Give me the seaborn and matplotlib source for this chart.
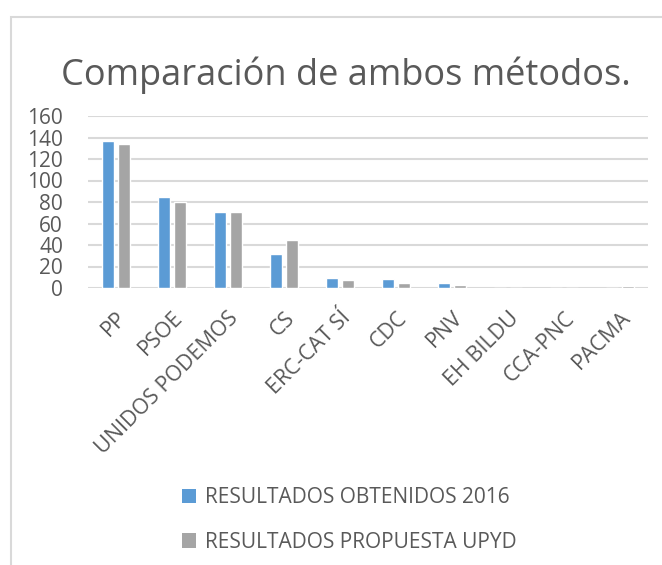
import pandas as pd
import numpy as np
import matplotlib.pyplot as plt
import seaborn as sns
from matplotlib.patches import Rectangle, Patch

# ----------------------------- Data ----------------------------- #
partidos = ['PP', 'PSOE', 'UNIDOS PODEMOS', 'CS', 'ERC-CAT SÍ', 'CDC', 'PNV',
            'EH BILDU', 'CCA-PNC', 'PACMA']
obtenidos_2016 = [137, 85, 71, 32, 9, 8, 5, 0, 0, 0]
propuesta_upyd = [134, 80, 71, 45, 7, 5, 3, 0, 0, 2]
series_names = ['RESULTADOS OBTENIDOS 2016', 'RESULTADOS PROPUESTA UPYD']
colors = ['#5b9bd5', '#a5a5a5']
y_ticks = [0, 20, 40, 60, 80, 100, 120, 140, 160]

df = pd.DataFrame({
    'Partido': partidos * 2,
    'Escaños': obtenidos_2016 + propuesta_upyd,
    'Serie': [series_names[0]] * len(partidos) + [series_names[1]] * len(partidos),
})

# ----------------------------- Plot ----------------------------- #
sns.set_theme(style='white')
plt.rcParams['font.family'] = ['Open Sans', 'DejaVu Sans']
text_color = '#595959'

fig = plt.figure(figsize=(6.62, 5.65), dpi=100)
# chart frame (Excel-like border)
fig.patches.append(Rectangle((11 / 662, -0.05), 1.2, 1 - 17 / 565 + 0.05,
                             transform=fig.transFigure, fill=False,
                             edgecolor='#d9d9d9', linewidth=1.5))

ax = fig.add_axes([88 / 662, 1 - 288 / 565, 560 / 662, 172 / 565])
sns.barplot(data=df, x='Partido', y='Escaños', hue='Serie', palette=colors,
            width=0.57, saturation=1, ax=ax, legend=False)

# narrow the bars a little to leave a gap inside each pair
for p in ax.patches:
    w = p.get_width()
    new_w = 0.215
    p.set_x(p.get_x() + (w - new_w) / 2)
    p.set_width(new_w)

ax.set_ylim(0, 160)
ax.set_yticks(y_ticks)
ax.set_xlim(-0.5, len(partidos) - 0.5)
ax.yaxis.grid(True, color='#d9d9d9', linewidth=1.5)
ax.set_axisbelow(True)
for s in ax.spines.values():
    s.set_visible(False)
ax.set_xlabel('')
ax.set_ylabel('')
ax.tick_params(axis='y', labelsize=15, colors=text_color, length=0, pad=18)
ax.tick_params(axis='x', labelsize=15.5, colors=text_color, length=0, pad=14)
plt.setp(ax.get_xticklabels(), rotation=45, ha='right', va='top',
         rotation_mode='anchor')

fig.text(0.523, 1 - 75 / 565, 'Comparación de ambos métodos.', ha='center',
         va='center', fontsize=26, color=text_color)

handles = [Patch(facecolor=c, edgecolor='none') for c in colors]
fig.legend(handles, series_names, loc='center left',
           bbox_to_anchor=(163 / 662, 1 - 520 / 565), frameon=False,
           fontsize=15, labelcolor=text_color, handlelength=0.7,
           handleheight=0.7, handletextpad=0.4, labelspacing=1.12)

fig.savefig('out.png', dpi=100)
